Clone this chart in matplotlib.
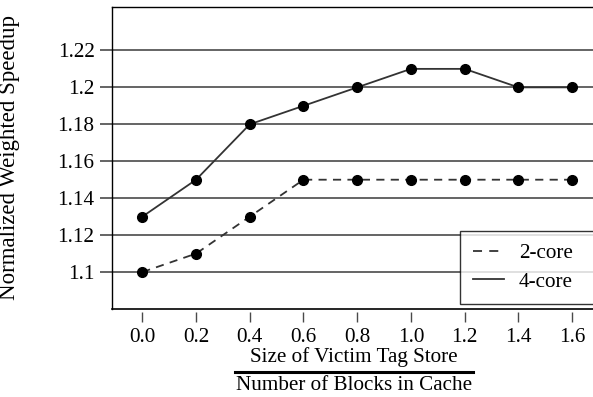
import matplotlib.pyplot as plt
from matplotlib.lines import Line2D

plt.rcParams['font.family'] = ['Liberation Serif', 'DejaVu Serif']

ratio = [0.0, 0.2, 0.4, 0.6, 0.8, 1.0, 1.2, 1.4, 1.6]
speedup_2core = [1.10, 1.11, 1.13, 1.15, 1.15, 1.15, 1.15, 1.15, 1.15]
speedup_4core = [1.13, 1.15, 1.18, 1.19, 1.20, 1.21, 1.21, 1.20, 1.20]
yticks = [1.1, 1.12, 1.14, 1.16, 1.18, 1.2, 1.22]
ytick_labels = ['1.1', '1.12', '1.14', '1.16', '1.18', '1.2', '1.22']

FS = 15.2
W, H = 593, 397

fig = plt.figure(figsize=(W/100, H/100), dpi=100)
ax = fig.add_axes([112/W, 1 - 309/H, 1.01 - 112/W, (309 - 7)/H])

for y in yticks:
    ax.axhline(y, color='#4a4a4a', lw=1.2, zorder=1)

ax.plot(ratio, speedup_2core, ls=(0, (4.5, 3.5)), color='#333333', lw=1.3,
        marker='o', ms=7, mfc='black', mec='black', zorder=3)
ax.plot(ratio, speedup_4core, ls='-', color='#333333', lw=1.3,
        marker='o', ms=7, mfc='black', mec='black', zorder=3)

ax.set_xlim(-0.113, 1.70)
ax.set_ylim(1.08, 1.2435)
ax.set_xticks(ratio)
ax.set_xticklabels(['%.1f' % r for r in ratio])
ax.set_yticks(yticks)
ax.set_yticklabels(ytick_labels)
ax.tick_params(axis='y', direction='out', length=8.6, width=1.2, color='#4a4a4a',
               labelsize=FS, pad=4)
ax.tick_params(axis='x', direction='out', length=7.2, width=1.0, color='#4a4a4a',
               labelsize=FS, pad=4)
for s in ax.spines.values():
    s.set_linewidth(1.0)
ax.spines['right'].set_visible(False)
# x ticks sit a little below the frame
ax.spines['bottom'].set_position(('outward', 2.2))
ax.spines['bottom'].set_visible(False)
ax.axhline(1.08, color='black', lw=1.2, clip_on=False, zorder=4)

ax.set_ylabel('Normalized Weighted Speedup', fontsize=16.5)
ax.yaxis.set_label_coords(-0.189, 0.5)

# x label drawn as a fraction
fig.text(354/W, 1 - 357/H, 'Size of Victim Tag Store', ha='center', va='center', fontsize=FS)
fig.add_artist(Line2D([235/W, 473/W], [1 - 371.5/H, 1 - 371.5/H], color='black', lw=2.2))
fig.text(354/W, 1 - 386/H, 'Number of Blocks in Cache', ha='center', va='center', fontsize=FS)

handles = [Line2D([], [], ls=(0, (5, 4)), color='#333333', lw=1.3),
           Line2D([], [], ls='-', color='#333333', lw=1.3)]
leg = fig.legend(handles, ['2-core', '4-core'], loc='upper left',
                 bbox_to_anchor=(460/W, 1 - 231/H, 145/W, 0), mode='expand',
                 fontsize=FS, frameon=True,
                 fancybox=False, edgecolor='black', handlelength=1.5,
                 handletextpad=0.7, borderpad=0.6, labelspacing=0.4,
                 borderaxespad=0)
leg.get_frame().set_linewidth(1.0)

fig.savefig('out.png', dpi=100)
